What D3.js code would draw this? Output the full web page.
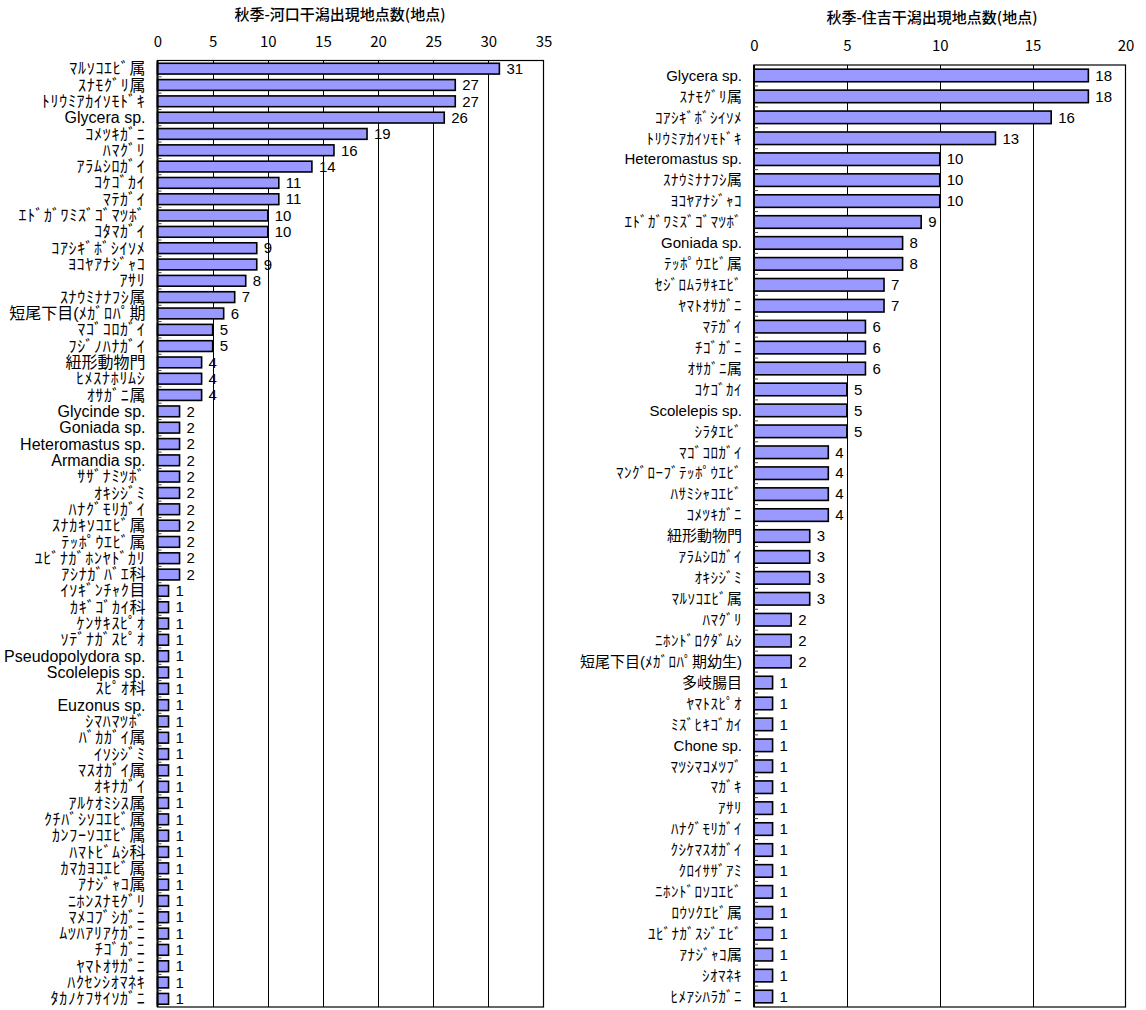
<!DOCTYPE html>
<html>
<head>
<meta charset="utf-8">
<script src="https://cdn.jsdelivr.net/npm/d3@7"></script>
<style>
  body { margin: 0; background: #fff; }
  svg { display: block; }
</style>
</head>
<body>
<svg id="chart" width="1146" height="1010"></svg>
<script>
// 河口干潟（秋季）
const leftTitle = "秋季-河口干潟出現地点数(地点)";
const leftCategories = [
  "ﾏﾙｿｺｴﾋﾞ属", "ｽﾅﾓｸﾞﾘ属", "ﾄﾘｳﾐｱｶｲｿﾓﾄﾞｷ", "Glycera sp.", "ｺﾒﾂｷｶﾞﾆ",
  "ﾊﾏｸﾞﾘ", "ｱﾗﾑｼﾛｶﾞｲ", "ｺｹｺﾞｶｲ", "ﾏﾃｶﾞｲ", "ｴﾄﾞｶﾞﾜﾐｽﾞｺﾞﾏﾂﾎﾞ",
  "ｺﾀﾏｶﾞｲ", "ｺｱｼｷﾞﾎﾞｼｲｿﾒ", "ﾖｺﾔｱﾅｼﾞｬｺ", "ｱｻﾘ", "ｽﾅｳﾐﾅﾅﾌｼ属",
  "短尾下目(ﾒｶﾞﾛﾊﾟ期", "ﾏｺﾞｺﾛｶﾞｲ", "ﾌｼﾞﾉﾊﾅｶﾞｲ", "紐形動物門", "ﾋﾒｽﾅﾎﾘﾑｼ",
  "ｵｻｶﾞﾆ属", "Glycinde sp.", "Goniada sp.", "Heteromastus sp.", "Armandia sp.",
  "ｻｻﾞﾅﾐﾂﾎﾞ", "ｵｷｼｼﾞﾐ", "ﾊﾅｸﾞﾓﾘｶﾞｲ", "ｽﾅｶｷｿｺｴﾋﾞ属", "ﾃｯﾎﾟｳｴﾋﾞ属",
  "ﾕﾋﾞﾅｶﾞﾎﾝﾔﾄﾞｶﾘ", "ｱｼﾅｶﾞﾊﾞｴ科", "ｲｿｷﾞﾝﾁｬｸ目", "ｶｷﾞｺﾞｶｲ科", "ｹﾝｻｷｽﾋﾟｵ",
  "ｿﾃﾞﾅｶﾞｽﾋﾟｵ", "Pseudopolydora sp.", "Scolelepis sp.", "ｽﾋﾟｵ科", "Euzonus sp.",
  "ｼﾏﾊﾏﾂﾎﾞ", "ﾊﾞｶｶﾞｲ属", "ｲｿｼｼﾞﾐ", "ﾏｽｵｶﾞｲ属", "ｵｷﾅｶﾞｲ",
  "ｱﾙｹｵﾐｼｽ属", "ｸﾁﾊﾞｼｿｺｴﾋﾞ属", "ｶﾝﾌｰｿｺｴﾋﾞ属", "ﾊﾏﾄﾋﾞﾑｼ科", "ｶﾏｶﾖｺｴﾋﾞ属",
  "ｱﾅｼﾞｬｺ属", "ﾆﾎﾝｽﾅﾓｸﾞﾘ", "ﾏﾒｺﾌﾞｼｶﾞﾆ", "ﾑﾂﾊｱﾘｱｹｶﾞﾆ", "ﾁｺﾞｶﾞﾆ",
  "ﾔﾏﾄｵｻｶﾞﾆ", "ﾊｸｾﾝｼｵﾏﾈｷ", "ﾀｶﾉｹﾌｻｲｿｶﾞﾆ"
];
const leftValues = [
  31, 27, 27, 26, 19,
  16, 14, 11, 11, 10,
  10, 9, 9, 8, 7,
  6, 5, 5, 4, 4,
  4, 2, 2, 2, 2,
  2, 2, 2, 2, 2,
  2, 2, 1, 1, 1,
  1, 1, 1, 1, 1,
  1, 1, 1, 1, 1,
  1, 1, 1, 1, 1,
  1, 1, 1, 1, 1,
  1, 1, 1
];
const leftTicks = [0, 5, 10, 15, 20, 25, 30, 35];

// 住吉干潟（秋季）
const rightTitle = "秋季-住吉干潟出現地点数(地点)";
const rightCategories = [
  "Glycera sp.", "ｽﾅﾓｸﾞﾘ属", "ｺｱｼｷﾞﾎﾞｼｲｿﾒ", "ﾄﾘｳﾐｱｶｲｿﾓﾄﾞｷ", "Heteromastus sp.",
  "ｽﾅｳﾐﾅﾅﾌｼ属", "ﾖｺﾔｱﾅｼﾞｬｺ", "ｴﾄﾞｶﾞﾜﾐｽﾞｺﾞﾏﾂﾎﾞ", "Goniada sp.", "ﾃｯﾎﾟｳｴﾋﾞ属",
  "ｾｼﾞﾛﾑﾗｻｷｴﾋﾞ", "ﾔﾏﾄｵｻｶﾞﾆ", "ﾏﾃｶﾞｲ", "ﾁｺﾞｶﾞﾆ", "ｵｻｶﾞﾆ属",
  "ｺｹｺﾞｶｲ", "Scolelepis sp.", "ｼﾗﾀｴﾋﾞ", "ﾏｺﾞｺﾛｶﾞｲ", "ﾏﾝｸﾞﾛｰﾌﾞﾃｯﾎﾟｳｴﾋﾞ",
  "ﾊｻﾐｼｬｺｴﾋﾞ", "ｺﾒﾂｷｶﾞﾆ", "紐形動物門", "ｱﾗﾑｼﾛｶﾞｲ", "ｵｷｼｼﾞﾐ",
  "ﾏﾙｿｺｴﾋﾞ属", "ﾊﾏｸﾞﾘ", "ﾆﾎﾝﾄﾞﾛｸﾀﾞﾑｼ", "短尾下目(ﾒｶﾞﾛﾊﾟ期幼生)", "多岐腸目",
  "ﾔﾏﾄｽﾋﾟｵ", "ﾐｽﾞﾋｷｺﾞｶｲ", "Chone sp.", "ﾏﾂｼﾏｺﾒﾂﾌﾞ", "ﾏｶﾞｷ",
  "ｱｻﾘ", "ﾊﾅｸﾞﾓﾘｶﾞｲ", "ｸｼｹﾏｽｵｶﾞｲ", "ｸﾛｲｻｻﾞｱﾐ", "ﾆﾎﾝﾄﾞﾛｿｺｴﾋﾞ",
  "ﾛｳｿｸｴﾋﾞ属", "ﾕﾋﾞﾅｶﾞｽｼﾞｴﾋﾞ", "ｱﾅｼﾞｬｺ属", "ｼｵﾏﾈｷ", "ﾋﾒｱｼﾊﾗｶﾞﾆ"
];
const rightValues = [
  18, 18, 16, 13, 10,
  10, 10, 9, 8, 8,
  7, 7, 6, 6, 6,
  5, 5, 5, 4, 4,
  4, 4, 3, 3, 3,
  3, 2, 2, 2, 1,
  1, 1, 1, 1, 1,
  1, 1, 1, 1, 1,
  1, 1, 1, 1, 1
];
const rightTicks = [0, 5, 10, 15, 20];

const BAR_FILL = "#9999ff";
const LABEL_FONT = "'Liberation Sans', 'Noto Sans CJK JP', sans-serif";
const JP_FONT = "'Noto Sans CJK JP', sans-serif";
// half-width katakana block
const HALF_KANA = /[\uFF61-\uFF9F]+|[^\uFF61-\uFF9F]+/g;

const svg = d3.select("#chart");
svg.append("rect").attr("width", 1146).attr("height", 1010).attr("fill", "#fff");

function drawPanel(p) {
  const g = svg.append("g");
  const x = d3.scaleLinear().domain([0, p.ticks[p.ticks.length - 1]]).range([p.left, p.right]);
  const y = d3.scaleBand().domain(p.categories).range([p.top, p.bottom]).paddingInner(p.padding).paddingOuter(p.padding / 2);
  const step = y.step();

  // vertical gridlines
  g.append("g").selectAll("line")
    .data(p.ticks.slice(1, -1))
    .join("line")
    .attr("x1", d => Math.round(x(d)) + 0.5).attr("x2", d => Math.round(x(d)) + 0.5)
    .attr("y1", p.top).attr("y2", p.bottom)
    .attr("stroke", "#000").attr("stroke-width", 1);

  // plot-area frame
  g.append("rect")
    .attr("x", p.left).attr("y", p.top)
    .attr("width", p.right - p.left).attr("height", p.bottom - p.top)
    .attr("fill", "none").attr("stroke", "#000").attr("stroke-width", 1.2);

  // bars
  g.append("g").selectAll("rect")
    .data(p.values)
    .join("rect")
    .attr("x", x(0))
    .attr("y", (d, i) => y(p.categories[i]))
    .attr("width", d => x(d) - x(0))
    .attr("height", y.bandwidth())
    .attr("fill", BAR_FILL)
    .attr("stroke", "#000").attr("stroke-width", 1.6);

  // category axis line and inner tick marks between categories
  g.append("line")
    .attr("x1", p.left).attr("x2", p.left)
    .attr("y1", p.top).attr("y2", p.bottom)
    .attr("stroke", "#000").attr("stroke-width", 2);
  g.append("g").selectAll("line")
    .data(d3.range(1, p.categories.length))
    .join("line")
    .attr("x1", p.left).attr("x2", p.left + 4)
    .attr("y1", i => p.top + i * step).attr("y2", i => p.top + i * step)
    .attr("stroke", "#444").attr("stroke-width", 1);

  // category labels; half-width kana runs get a little extra tracking
  g.append("g").selectAll("text")
    .data(p.categories)
    .join("text")
    .attr("x", p.left - 12)
    .attr("y", d => y(d) + y.bandwidth() / 2)
    .attr("dy", "0.35em")
    .attr("text-anchor", "end")
    .attr("font-family", LABEL_FONT)
    .attr("font-size", p.labelSize)
    .attr("fill", "#000")
    .selectAll("tspan")
    .data(d => d.match(HALF_KANA))
    .join("tspan")
    .attr("letter-spacing", s => /^[\uFF61-\uFF9F]/.test(s) ? p.kanaSpacing : null)
    .text(s => s);

  // value labels
  g.append("g").selectAll("text")
    .data(p.values)
    .join("text")
    .attr("x", d => x(d) + 7)
    .attr("y", (d, i) => y(p.categories[i]) + y.bandwidth() / 2)
    .attr("dy", "0.35em")
    .attr("font-family", "'Liberation Sans', sans-serif")
    .attr("font-size", 15)
    .attr("fill", "#000")
    .text(d => d);

  // value axis on top
  const axis = g.append("g")
    .attr("transform", `translate(0,${p.top})`)
    .call(d3.axisTop(x).tickValues(p.ticks).tickSize(0).tickPadding(14).tickFormat(d3.format("d")));
  axis.select(".domain").remove();
  axis.selectAll("text")
    .attr("font-family", JP_FONT)
    .attr("font-size", 15)
    .attr("fill", "#000");

  // title
  g.append("text")
    .attr("x", p.titleX).attr("y", p.titleY)
    .attr("text-anchor", "middle")
    .attr("font-family", JP_FONT)
    .attr("font-size", 15)
    .attr("font-weight", 500)
    .attr("fill", "#000")
    .text(p.title);
}

drawPanel({
  title: leftTitle, categories: leftCategories, values: leftValues, ticks: leftTicks,
  left: 157.5, right: 543.5, top: 60.5, bottom: 1007,
  padding: 0.34, labelSize: 16, kanaSpacing: 0.7, titleX: 340, titleY: 20
});

drawPanel({
  title: rightTitle, categories: rightCategories, values: rightValues, ticks: rightTicks,
  left: 754, right: 1125.5, top: 65, bottom: 1007,
  padding: 0.4, labelSize: 15, kanaSpacing: 0.5, titleX: 932, titleY: 23
});
</script>
</body>
</html>
